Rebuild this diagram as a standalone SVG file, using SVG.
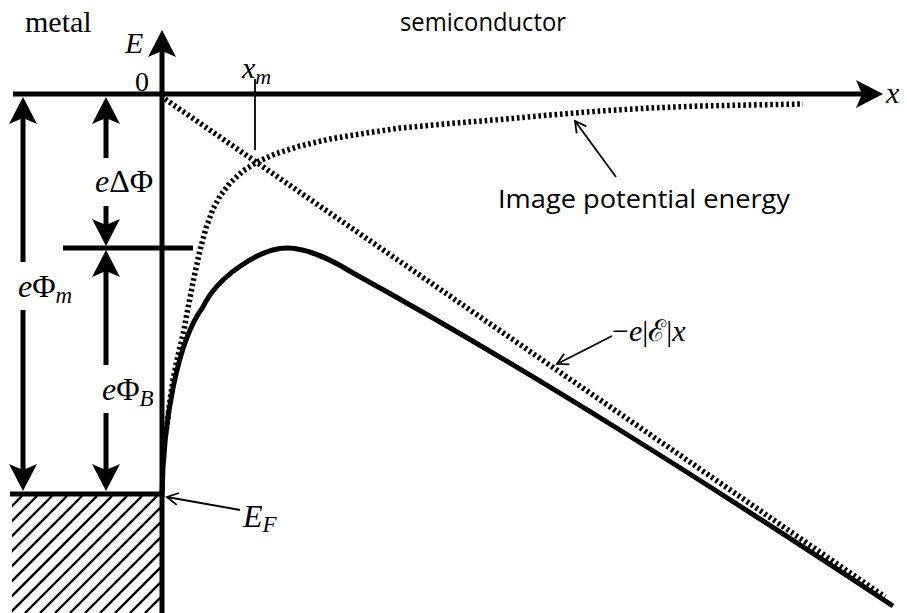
<svg xmlns="http://www.w3.org/2000/svg" width="907" height="613" viewBox="0 0 907 613">
<style>
.thick{stroke:#000;stroke-width:5;fill:none}
.thin{stroke:#000;stroke-width:1.8;fill:none}
.dot{stroke:#000;stroke-width:5.5;fill:none;stroke-dasharray:2.6 2.8}
.hatch{stroke:#000;stroke-width:2.4}
.serif{font-family:"Liberation Serif","Times New Roman",serif;fill:#000}
.math{font-family:"Liberation Serif","DejaVu Serif",serif;font-style:italic;fill:#000}
.up{font-style:normal}
.sans{font-family:"Open Sans","Noto Sans","Liberation Sans",sans-serif;fill:#000}
</style>
<defs>
<marker id="ah" markerUnits="userSpaceOnUse" markerWidth="30" markerHeight="30" viewBox="0 0 30 30" refX="6" refY="15" orient="auto">
<path d="M0,1 L27,15 L0,29 L6,15 Z" fill="#000"/>
</marker>
<marker id="oa" markerUnits="userSpaceOnUse" markerWidth="14" markerHeight="14" viewBox="0 0 14 14" refX="12" refY="7" orient="auto">
<path d="M1,1 L12,7 L1,13" fill="none" stroke="#000" stroke-width="1.8"/>
</marker>
<clipPath id="metalclip"><rect x="12" y="496" width="148" height="117"/></clipPath>
</defs>
<rect width="907" height="613" fill="#fff"/>

<g id="metal-region">
<g clip-path="url(#metalclip)" class="hatch">
<line x1="22" y1="496" x2="-95" y2="613"/>
<line x1="37" y1="496" x2="-80" y2="613"/>
<line x1="52" y1="496" x2="-65" y2="613"/>
<line x1="67" y1="496" x2="-50" y2="613"/>
<line x1="82" y1="496" x2="-35" y2="613"/>
<line x1="97" y1="496" x2="-20" y2="613"/>
<line x1="112" y1="496" x2="-5" y2="613"/>
<line x1="127" y1="496" x2="10" y2="613"/>
<line x1="142" y1="496" x2="25" y2="613"/>
<line x1="157" y1="496" x2="40" y2="613"/>
<line x1="172" y1="496" x2="55" y2="613"/>
<line x1="187" y1="496" x2="70" y2="613"/>
<line x1="202" y1="496" x2="85" y2="613"/>
<line x1="217" y1="496" x2="100" y2="613"/>
<line x1="232" y1="496" x2="115" y2="613"/>
<line x1="247" y1="496" x2="130" y2="613"/>
<line x1="262" y1="496" x2="145" y2="613"/>
<line x1="277" y1="496" x2="160" y2="613"/>
</g>
<line class="thick" x1="10" y1="494" x2="162" y2="494"/>
</g>

<g id="axes">
<line class="thick" x1="162" y1="613" x2="162" y2="51" marker-end="url(#ah)"/>
<line class="thick" x1="13" y1="94" x2="862" y2="94" stroke-width="5.5" marker-end="url(#ah)"/>
<line class="thick" x1="63" y1="248" x2="193" y2="248"/>
<line class="thin" x1="255" y1="79" x2="255" y2="150" stroke-width="2"/>
</g>

<g id="curves">
<path class="dot" d="M165,99 L885,597"/>
<path class="dot" d="M164,440 L167,425 L170,400 L173,380 L177,360 L180,347 L184,330 L187,313 L190,298 L193,282 L197,264 L200,250 L206,228 L213,209 L220,196 L230,183 L243,171 L257,162 L275,154 L300,146 L330,139 L360,134 L400,128 L450,123.5 L500,119.5 L550,115 L600,111 L650,108 L700,106 L750,105 L803,104"/>
<path class="thick" stroke-width="5.5" d="M162,497 C163,420 178,340 203,307 C217,277 260,248 287,248 C310,248 335,262 353,273 C533,372 713,487 893,606"/>
</g>

<g id="connectors">
<line class="thick" x1="23" y1="262" x2="23" y2="118" marker-end="url(#ah)"/>
<line class="thick" x1="23" y1="310" x2="23" y2="470" marker-end="url(#ah)"/>
<line class="thick" x1="106" y1="158" x2="106" y2="118" marker-end="url(#ah)"/>
<line class="thick" x1="106" y1="206" x2="106" y2="225" marker-end="url(#ah)"/>
<line class="thick" x1="106" y1="365" x2="106" y2="271" marker-end="url(#ah)"/>
<line class="thick" x1="106" y1="413" x2="106" y2="470" marker-end="url(#ah)"/>
<line class="thin" x1="240" y1="510" x2="167" y2="497" marker-end="url(#oa)"/>
<line class="thin" x1="616" y1="177" x2="575" y2="121" marker-end="url(#oa)"/>
<line class="thin" x1="612" y1="336" x2="557" y2="364" marker-end="url(#oa)"/>
</g>

<g id="labels">
<text id="lbl-metal" class="serif" x="25" y="32" font-size="30">metal</text>
<text id="lbl-semi" class="sans" x="400" y="31" font-size="25" textLength="166" lengthAdjust="spacingAndGlyphs">semiconductor</text>
<text id="lbl-E" class="math" x="125" y="53" font-size="30">E</text>
<text id="lbl-0" class="serif" x="135" y="91" font-size="28">0</text>
<text id="lbl-xm" class="math" x="242" y="78" font-size="30">x<tspan font-size="22" dy="6">m</tspan></text>
<text id="lbl-x" class="math" x="886" y="103" font-size="30">x</text>
<text id="lbl-dphi" class="math" x="95" y="192" font-size="32">e<tspan class="up">ΔΦ</tspan></text>
<text id="lbl-phim" class="math" x="18" y="297" font-size="32">e<tspan class="up">Φ</tspan><tspan font-size="23" dy="6">m</tspan></text>
<text id="lbl-phib" class="math" x="102" y="400" font-size="32">e<tspan class="up">Φ</tspan><tspan font-size="23" dy="6">B</tspan></text>
<text id="lbl-EF" class="math" x="243" y="527" font-size="32">E<tspan font-size="23" dy="5">F</tspan></text>
<text id="lbl-image" class="sans" x="498" y="208" font-size="25" textLength="292" lengthAdjust="spacingAndGlyphs">Image potential energy</text>
<text id="lbl-field" class="math" x="612" y="341" font-size="30"><tspan class="up">−</tspan>e<tspan class="up">|ℰ|</tspan>x</text>
</g>
</svg>
